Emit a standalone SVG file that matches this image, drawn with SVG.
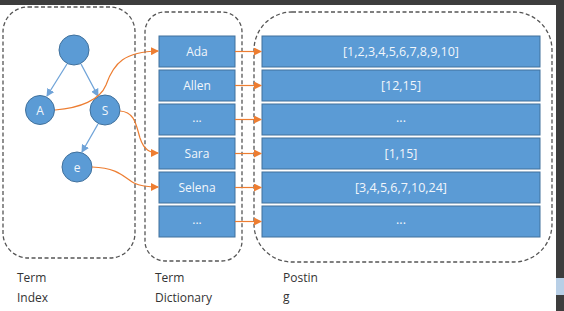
<svg xmlns="http://www.w3.org/2000/svg" width="564" height="311" viewBox="0 0 564 311">
<defs>
<style>
.frame{fill:none;stroke:#555;stroke-width:1.3;stroke-dasharray:4 2.5}
.node{fill:#5b9bd5;stroke:#41719c;stroke-width:1}
.box{fill:#5b9bd5;stroke:#41719c;stroke-width:1}
.lbl{font-family:"Open Sans","Liberation Sans",sans-serif;font-size:12px;fill:#f2f6fb;text-anchor:middle}
.plbl{font-family:"Open Sans","Liberation Sans",sans-serif;font-size:12.5px;fill:#f2f6fb;text-anchor:middle}
.cap{font-family:"Open Sans","Liberation Sans",sans-serif;font-size:12px;fill:#333}
.tree{fill:none;stroke:#6fa3d8;stroke-width:1.3}
.link{fill:none;stroke:#ed7d31;stroke-width:1.2}
</style>
<marker id="ab" markerWidth="8" markerHeight="8" refX="7" refY="4" orient="auto" markerUnits="userSpaceOnUse">
<path d="M0,0 L8,4 L0,8 Z" fill="#6fa3d8"/>
</marker>
<marker id="ao" markerWidth="8" markerHeight="8" refX="7" refY="4" orient="auto" markerUnits="userSpaceOnUse">
<path d="M0,0 L8,4 L0,8 Z" fill="#ed7d31"/>
</marker>
</defs>
<rect x="0" y="0" width="564" height="311" fill="#fff"/>
<rect x="0" y="0" width="564" height="5" fill="#3d3d3d"/>
<rect x="556" y="0" width="8" height="311" fill="#3d3d3d"/>
<rect x="556" y="278" width="8" height="17" fill="#b8cfe6"/>

<g id="frames">
<rect class="frame" x="3" y="7" width="132" height="251" rx="25"/>
<rect class="frame" x="145" y="12" width="97" height="249" rx="20"/>
<rect class="frame" x="254" y="12" width="298" height="250" rx="38"/>
</g>

<g id="tree-nodes">
<g id="n-root"><circle class="node" cx="74" cy="50" r="15"/></g>
<g id="n-A"><circle class="node" cx="40" cy="110" r="14.5"/><text class="lbl" x="40" y="114.5">A</text></g>
<g id="n-S"><circle class="node" cx="105" cy="110" r="15"/><text class="lbl" x="105" y="114.5">S</text></g>
<g id="n-e"><circle class="node" cx="77" cy="167" r="15"/><text class="lbl" x="77" y="171.5">e</text></g>
</g>

<g id="dictionary">
<g id="d-ada"><rect class="box" x="159" y="36" width="76" height="31"/><text class="lbl" x="197" y="56">Ada</text></g>
<g id="d-allen"><rect class="box" x="159" y="70" width="76" height="31"/><text class="lbl" x="197" y="90">Allen</text></g>
<g id="d-dots1"><rect class="box" x="159" y="104" width="76" height="31"/><text class="lbl" x="197" y="122">...</text></g>
<g id="d-sara"><rect class="box" x="159" y="138" width="76" height="31"/><text class="lbl" x="197" y="158">Sara</text></g>
<g id="d-selena"><rect class="box" x="159" y="172" width="76" height="31"/><text class="lbl" x="197" y="192">Selena</text></g>
<g id="d-dots2"><rect class="box" x="159" y="206" width="76" height="31"/><text class="lbl" x="197" y="224">...</text></g>
</g>

<g id="postings">
<g id="p-ada"><rect class="box" x="262" y="36" width="278" height="31"/><text class="plbl" x="401" y="56">[1,2,3,4,5,6,7,8,9,10]</text></g>
<g id="p-allen"><rect class="box" x="262" y="70" width="278" height="31"/><text class="plbl" x="401" y="90">[12,15]</text></g>
<g id="p-dots1"><rect class="box" x="262" y="104" width="278" height="31"/><text class="plbl" x="401" y="122">...</text></g>
<g id="p-sara"><rect class="box" x="262" y="138" width="278" height="31"/><text class="plbl" x="401" y="158">[1,15]</text></g>
<g id="p-selena"><rect class="box" x="262" y="172" width="278" height="31"/><text class="plbl" x="401" y="192">[3,4,5,6,7,10,24]</text></g>
<g id="p-dots2"><rect class="box" x="262" y="206" width="278" height="31"/><text class="plbl" x="401" y="224">...</text></g>
</g>

<g id="connectors">
<line class="tree" x1="67" y1="64" x2="47" y2="96" marker-end="url(#ab)"/>
<line class="tree" x1="81" y1="64" x2="98" y2="96" marker-end="url(#ab)"/>
<line class="tree" x1="98" y1="124" x2="82" y2="152" marker-end="url(#ab)"/>
<path class="link" d="M55,110 C80,108 100,100 106,85 C114,62 125,52 158,51" marker-end="url(#ao)"/>
<path class="link" d="M120,111 C135,112 136,125 140,138 C144,150 150,153 158,153" marker-end="url(#ao)"/>
<path class="link" d="M92,167 C120,168 124,178 134,183 C142,187 150,187 158,187" marker-end="url(#ao)"/>
<line class="link" x1="235" y1="51.5" x2="261" y2="51.5" marker-end="url(#ao)"/>
<line class="link" x1="235" y1="85.5" x2="261" y2="85.5" marker-end="url(#ao)"/>
<line class="link" x1="235" y1="119.5" x2="261" y2="119.5" marker-end="url(#ao)"/>
<line class="link" x1="235" y1="153.5" x2="261" y2="153.5" marker-end="url(#ao)"/>
<line class="link" x1="235" y1="187.5" x2="261" y2="187.5" marker-end="url(#ao)"/>
<line class="link" x1="235" y1="221.5" x2="261" y2="221.5" marker-end="url(#ao)"/>
</g>

<g id="captions">
<text class="cap" x="17" y="282">Term</text>
<text class="cap" x="17" y="302">Index</text>
<text class="cap" x="155" y="282">Term</text>
<text class="cap" x="155" y="302">Dictionary</text>
<text class="cap" x="283" y="282">Postin</text>
<text class="cap" x="283" y="301">g</text>
</g>
</svg>
